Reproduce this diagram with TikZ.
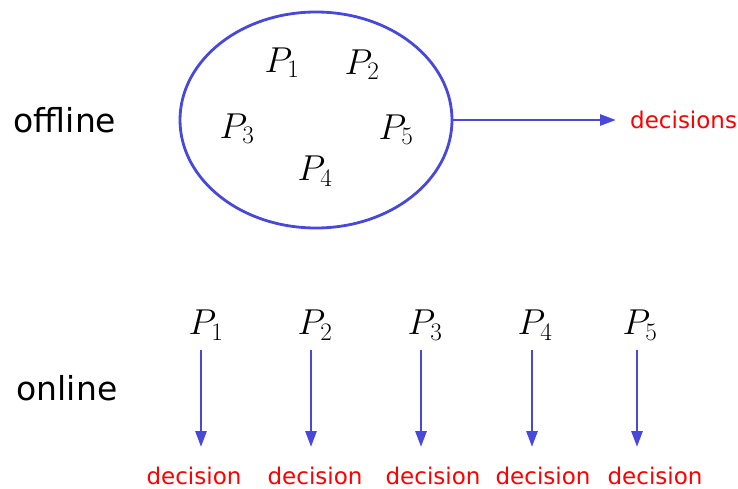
\RequirePackage{fix-cm}
\documentclass[tikz,border=0pt]{standalone}
\usepackage{fontspec}
\setsansfont{DejaVu Sans}
\usetikzlibrary{arrows.meta,shapes.geometric}
\definecolor{bl}{RGB}{72,72,218}
\tikzset{
  pl/.style={inner sep=0pt, font=\fontsize{36}{40}\selectfont},
  lab/.style={inner sep=0pt, font=\sffamily\fontsize{33}{38}\selectfont},
  dec/.style={inner sep=0pt, text=red, font=\sffamily\fontsize{23}{26}\selectfont},
  arr/.style={draw=bl, line width=2.8pt, -{Triangle[length=16pt,width=11pt]}}
}
\begin{document}
\begin{tikzpicture}[x=1pt,y=-1pt]
\useasboundingbox (0,0) rectangle (738,489);
\node[draw=bl, line width=2.8pt, ellipse, minimum width=272pt, minimum height=216pt, inner sep=0pt] (E) at (316,120) {};
\node[pl] (a1) at (282,63) {$P_1$};
\node[pl] (a2) at (362,65) {$P_2$};
\node[pl] (a3) at (237,129) {$P_3$};
\node[pl] (a5) at (396,130) {$P_5$};
\node[pl] (a4) at (315,171) {$P_4$};
\node[lab] (off) at (65,120) {offline};
\node[lab] (on) at (67,388) {online};
\node[dec, anchor=west] (ds) at (630,120) {decisions};
\coordinate (de) at (616,120);
\draw[arr] (E.east) -- (de);
% online
\foreach \i/\px/\ax/\dx in {1/206/201/194, 2/315/311/315, 3/425/421/433, 4/535/532/543, 5/640/637/655}{
  \node[pl] (p\i) at (\px,325) {$P_{\i}$};
  \coordinate (s\i) at (\ax,350);
  \coordinate (t\i) at (\ax,447);
  \node[dec] (d\i) at (\dx,476) {decision};
  \draw[arr] (s\i) -- (t\i);
}
\end{tikzpicture}
\end{document}
